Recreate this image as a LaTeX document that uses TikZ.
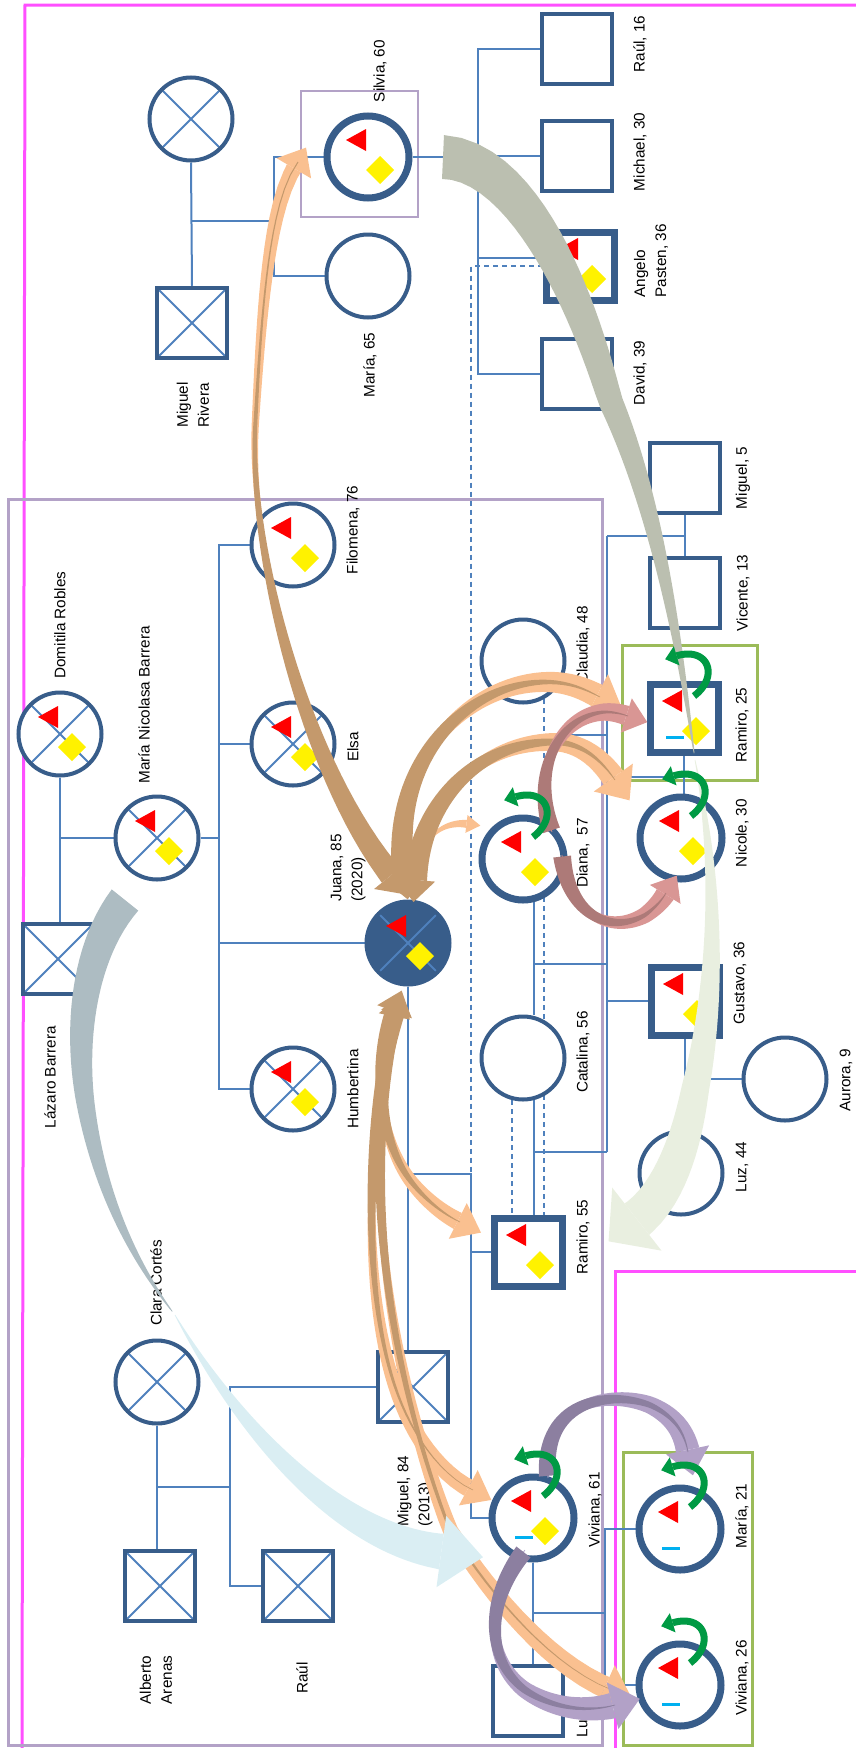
\documentclass[tikz,border=0pt]{standalone}
\usepackage{fontspec}
\setmainfont{Liberation Sans}
\usetikzlibrary{decorations.markings,backgrounds}

\definecolor{gblue}{HTML}{385D8A}
\definecolor{lblue}{HTML}{4F81BD}
\definecolor{pinkb}{HTML}{FF4FFF}
\definecolor{purpb}{HTML}{B3A2C7}
\definecolor{greenb}{HTML}{9BBB59}
\definecolor{cyanm}{HTML}{00B0F0}
\definecolor{curlg}{HTML}{009A44}
\definecolor{peach}{HTML}{FAC090}
\definecolor{brownb}{HTML}{C4996C}
\definecolor{grayb}{HTML}{BBBFB0}
\definecolor{paleg}{HTML}{E9EFE0}
\definecolor{grayblue}{HTML}{ADBCC2}
\definecolor{paleblue}{HTML}{DAEEF3}
\definecolor{rosel}{HTML}{D99694}
\definecolor{rosed}{HTML}{AD7A78}
\definecolor{purpl}{HTML}{B2A1C7}
\definecolor{purpd}{HTML}{8C7FA0}

\tikzset{
  fem/.style={circle, draw=gblue, fill=white, line width=4pt, minimum size=83pt, inner sep=0pt},
  femb/.style={fem, line width=7pt, minimum size=82pt},
  mal/.style={rectangle, draw=gblue, fill=white, line width=4.5pt, minimum size=70pt, inner sep=0pt},
  malb/.style={mal, line width=7pt, minimum size=68pt},
  dead/.style={path picture={\draw[lblue, line width=2pt]
      (path picture bounding box.north west) -- (path picture bounding box.south east)
      (path picture bounding box.north east) -- (path picture bounding box.south west);}},
  lab/.style={rotate=90, font=\fontsize{15.3}{21}\selectfont, align=left, inner sep=0pt},
  tie/.style={lblue, line width=2pt},
  dashtie/.style={lblue, line width=2pt, dash pattern=on 5pt off 4pt},
}

% tapering band: colour, start half width, end half width, head length, head half width, path, taper power
\newcommand\taperband[7]{%
  \path[decorate, decoration={markings,
     mark=between positions 0 and 0.985 step 0.02 with {
       \pgfmathsetmacro\bw{#2+(#3-#2)*pow(max(0.001,(\pgfkeysvalueof{/pgf/decoration/mark info/sequence number}-1)*0.02),#7)}
       \coordinate (tbL-\pgfkeysvalueof{/pgf/decoration/mark info/sequence number}) at (0pt,\bw pt);
       \coordinate (tbR-\pgfkeysvalueof{/pgf/decoration/mark info/sequence number}) at (0pt,-\bw pt);}}] #6;
  \path[decorate, decoration={markings,
     mark=at position 0.99 with {
       \coordinate (tbL-51) at (0pt,#3pt);
       \coordinate (tbR-51) at (0pt,-#3pt);
       \fill[#1] (0pt,#5pt) -- (#4pt,0pt) -- (0pt,-#5pt) -- cycle;}}] #6;
  \fill[#1] (tbL-1) \foreach \k in {2,...,51} {-- (tbL-\k)} -- (tbR-51) \foreach \k in {50,...,1} {-- (tbR-\k)} -- cycle;}

% symbols inside a person
\newcommand\redtri[1]{\fill[red] ([shift={(-22,-17)}]#1.center) -- ([shift={(-2,-28)}]#1.center) -- ([shift={(-2,-6)}]#1.center) -- cycle;}
\newcommand\yeldia[1]{\fill[yellow] ([shift={(12,-1)}]#1.center) -- ([shift={(26,13)}]#1.center) -- ([shift={(12,27)}]#1.center) -- ([shift={(-2,13)}]#1.center) -- cycle;}
\newcommand\riskmarks[1]{\redtri{#1}\yeldia{#1}}
\newcommand\cutmark[1]{\draw[cyanm, line width=3pt] ([shift={(-18,19)}]#1.center) -- ([shift={(0,19)}]#1.center);}
\newcommand\selfcurl[1]{\taperband{curlg}{3.5}{3.5}{12}{10}{([shift={(10,-22)}]#1.center) .. controls ([shift={(36,-42)}]#1.center) and ([shift={(24,-72)}]#1.center) .. ([shift={(-8,-62)}]#1.center)}{1}}

\begin{document}
\begin{tikzpicture}[x=1pt,y=-1pt]
\useasboundingbox (0,0) rectangle (856,1748);

% Rivera / Pasten
\node[fem,dead] (gmaS) at (191,119) {};
\node[mal,dead] (miguelR) at (192,323) {};
\node[femb] (silvia) at (368,157) {};
\node[fem] (maria65) at (368,276) {};
\node[mal] (raul16) at (577,49) {};
\node[mal] (michael) at (577,156) {};
\node[malb] (angelo) at (580,266) {};
\node[mal] (david) at (577,374) {};

% Barrera
\node[fem,dead] (domitila) at (60,734) {};
\node[fem,dead] (marianb) at (157,838) {};
\node[mal,dead] (lazaro) at (58,959) {};
\node[fem] (filomena) at (293,545) {};
\node[fem,dead] (elsa) at (293,744) {};
\node[fem,dead,fill=gblue] (juana) at (408,943) {};
\node[fem,dead] (humbertina) at (293,1089) {};

% Arenas
\node[fem,dead] (clara) at (157,1382) {};
\node[mal,dead] (miguel84) at (413,1387) {};
\node[mal,dead] (alberto) at (160,1586) {};
\node[mal,dead] (raul) at (298,1586) {};

% children
\node[fem] (claudia) at (523,661) {};
\node[femb] (diana) at (523,859) {};
\node[fem] (catalina) at (523,1058) {};
\node[malb] (ramiro55) at (528,1252) {};
\node[femb] (viviana61) at (533,1518) {};
\node[mal] (luis) at (528,1701) {};
\node[mal] (miguel5) at (685,478) {};
\node[mal] (vicente) at (685,593) {};
\node[malb] (ramiro25) at (684,718) {};
\node[femb] (nicole) at (681,838) {};
\node[malb] (gustavo) at (685,1001) {};
\node[fem] (luz) at (681,1173) {};
\node[fem] (aurora) at (785,1079) {};
\node[femb] (maria21) at (680,1529) {};
\node[femb] (viviana26) at (680,1685) {};

% names
\node[lab] (silviaL) at (380,71) {Silvia, 60};
\node[lab] (maria65L) at (370,365) {María, 65};
\node[lab] (miguelRL) at (193,405) {Miguel\\Rivera};
\node[lab] (raul16L) at (640,44) {Raúl, 16};
\node[lab] (michaelL) at (640,152) {Michael, 30};
\node[lab] (angeloL) at (651,261) {Angelo\\Pasten, 36};
\node[lab] (davidL) at (640,373) {David, 39};
\node[lab] (domitilaL) at (60,625) {Domitila Robles};
\node[lab] (marianbL) at (144,705) {María Nicolasa Barrera};
\node[lab] (lazaroL) at (50,1077) {Lázaro Barrera};
\node[lab] (filomenaL) at (353,530) {Filomena, 76};
\node[lab] (elsaL) at (353,747) {Elsa};
\node[lab] (juanaL) at (348,868) {Juana, 85\\(2020)};
\node[lab] (humbertinaL) at (353,1089) {Humbertina};
\node[lab] (claraL) at (156,1283) {Clara Cortés};
\node[lab] (miguel84L) at (415,1491) {Miguel, 84\\(2013)};
\node[lab] (albertoL) at (156,1680) {Alberto\\Arenas};
\node[lab] (raulL) at (302,1678) {Raúl};
\node[lab] (claudiaL) at (583,645) {Claudia, 48};
\node[lab] (dianaL) at (583,853) {Diana,\ \ 57};
\node[lab] (catalinaL) at (583,1052) {Catalina, 56};
\node[lab] (ramiro55L) at (583,1237) {Ramiro, 55};
\node[lab] (viviana61L) at (595,1510) {Viviana, 61};
\node[lab] (luisL) at (582,1723) {Luis};
\node[lab] (miguel5L) at (743,478) {Miguel, 5};
\node[lab] (vicenteL) at (743,593) {Vicente, 13};
\node[lab] (ramiro25L) at (742,725) {Ramiro, 25};
\node[lab] (nicoleL) at (742,833) {Nicole, 30};
\node[lab] (gustavoL) at (740,983) {Gustavo, 36};
\node[lab] (luzL) at (742,1167) {Luz, 44};
\node[lab] (auroraL) at (846,1080) {Aurora, 9};
\node[lab] (maria21L) at (742,1516) {María, 21};
\node[lab] (viviana26L) at (742,1678) {Viviana, 26};

% junctions
\coordinate (sibS) at (274,221);
\coordinate (sibA) at (478,157);
\coordinate (sibJ) at (219,838);
\coordinate (kidJ) at (408,1174);
\coordinate (kidJ2) at (471,1174);
\coordinate (sibC) at (230,1487);
\coordinate (kidV) at (605,1613);
\coordinate (busT) at (607,536);
\coordinate (busB) at (607,1152);
\coordinate (jCl) at (607,735);
\coordinate (jNi) at (607,777);
\coordinate (jDi) at (607,964);

\begin{scope}[on background layer]
  \draw[pinkb, line width=3pt] (856,5) -- (25,5) -- (22,1748);
  \draw[pinkb, line width=3pt] (856,1271) -- (615,1271) -- (615,1748);
  \draw[purpb, line width=3pt] (8,499) rectangle (602,1745);
  \draw[purpb, line width=2.5pt] (301,91) rectangle (418,217);
  \draw[greenb, line width=3pt] (622,645) rectangle (757,780);
  \draw[greenb, line width=3pt] (623,1452) rectangle (752,1745);
  % family lines
  \draw[tie] (gmaS.south) -- (miguelR.north);
  \draw[tie] (gmaS.south |- sibS) -- (sibS) |- (silvia.west);
  \draw[tie] (sibS) |- (maria65.west);
  \draw[tie] (silvia.east) -- (sibA) |- (raul16.west);
  \draw[tie] (sibA) |- (michael.west);
  \draw[tie] (sibA) |- ([yshift=8pt]angelo.west);
  \draw[tie] (sibA) |- (david.west);
  \draw[dashtie] (angelo.west) -| (kidJ2);
  \draw[tie] (domitila.south) -- (domitila.south |- lazaro.north);
  \draw[tie] (domitila.south |- marianb.west) -- (marianb.west);
  \draw[tie] (marianb.east) -- (sibJ) |- (filomena.west);
  \draw[tie] (sibJ) |- (elsa.west);
  \draw[tie] (sibJ) |- (juana.west);
  \draw[tie] (sibJ) |- (humbertina.west);
  \draw[tie] (juana.south) -- (juana.south |- miguel84.north);
  \draw[tie] (kidJ) -- (kidJ2) |- (ramiro55.west);
  \draw[tie] (kidJ2) |- (viviana61.west);
  \draw[tie] (clara.south) -- (clara.south |- alberto.north);
  \draw[tie] (clara.south |- sibC) -- (sibC) |- (miguel84.west);
  \draw[tie] (sibC) |- (raul.west);
  \draw[tie] (viviana61.south) -- (viviana61.south |- luis.north);
  \draw[tie] (viviana61.south |- kidV) -- (kidV) |- (maria21.west);
  \draw[tie] (kidV) |- (viviana26.west);
  \draw[tie] (diana.-76) -- (diana.-76 |- catalina.north);
  \draw[tie] (catalina.-76) -- (catalina.-76 |- ramiro55.north);
  \draw[dashtie] (claudia.-61) -- (claudia.-61 |- ramiro55.north);
  \draw[dashtie] (catalina.-104) -- (catalina.-104 |- ramiro55.north);
  \draw[tie] (busT) -- (busB);
  \draw[tie] (busT) -- (busT -| miguel5.south);
  \draw[tie] (miguel5.south) -- (vicente.north);
  \draw[tie] (jCl) -- (jCl -| claudia.-61);
  \draw[tie] (jNi) -- (jNi -| ramiro25.south);
  \draw[tie] (ramiro25.south) -- (ramiro25.south |- nicole.north);
  \draw[tie] (jDi) -- (jDi -| diana.-76);
  \draw[tie] (busT |- gustavo.west) -- (gustavo.west);
  \draw[tie] (busB) -- (busB -| catalina.-76);
  \draw[tie] (gustavo.south) -- (gustavo.south |- luz.north);
  \draw[tie] (gustavo.south |- aurora.west) -- (aurora.west);
\end{scope}

% marks
\foreach \p in {silvia,angelo,filomena,elsa,domitila,marianb,juana,humbertina,diana,nicole,ramiro25,gustavo,ramiro55,viviana61}
  {\riskmarks{\p}}
\redtri{maria21}
\redtri{viviana26}
\foreach \p in {ramiro25,viviana61,maria21,viviana26} {\cutmark{\p}}

% relation bands: peach ones first, brown over them
\taperband{peach}{0.5}{8}{24}{20}{([shift={(-12,-62)}]juana.center) .. controls (310,780) and (250,560) .. (255,430) .. controls (262,300) and (270,200) .. ([shift={(-70,5)}]silvia.center)}{2}
\taperband{peach}{0.3}{12}{28}{24}{([shift={(-3,-58)}]juana.center) .. controls (385,760) and (470,680) .. (550,682) .. controls (575,683) and (590,692) .. ([shift={(-84,-21)}]ramiro25.center)}{1}
\taperband{peach}{0.3}{12}{28}{24}{([shift={(7,-56)}]juana.center) .. controls (420,800) and (480,742) .. (553,742) .. controls (580,742) and (600,758) .. ([shift={(-66,-58)}]nicole.center)}{1}
\taperband{peach}{0.3}{4}{14}{9}{([shift={(17,-93)}]juana.center) .. controls (432,828) and (452,822) .. ([shift={(-56,-35)}]diana.center)}{1}
\taperband{peach}{0.3}{9}{26}{20}{([shift={(-13,62)}]juana.center) .. controls (372,1070) and (380,1140) .. (410,1180) .. controls (425,1200) and (445,1215) .. ([shift={(-68,-30)}]ramiro55.center)}{1}
\taperband{peach}{0.3}{9}{26}{20}{([shift={(-10,62)}]juana.center) .. controls (365,1120) and (360,1300) .. (400,1400) .. controls (420,1450) and (450,1480) .. ([shift={(-60,-28)}]viviana61.center)}{1}
\taperband{peach}{0.3}{11}{30}{24}{([shift={(-12,62)}]juana.center) .. controls (355,1200) and (400,1400) .. (450,1530) .. controls (500,1610) and (560,1670) .. ([shift={(-68,5)}]viviana26.center)}{1}

\taperband{brownb}{0.5}{12}{25}{22}{([shift={(-70,5)}]silvia.center) .. controls (270,200) and (262,300) .. (255,430) .. controls (250,560) and (310,780) .. ([shift={(-12,-62)}]juana.center)}{2}
\taperband{brownb}{0.3}{12}{22}{20}{([shift={(-84,-21)}]ramiro25.center) .. controls (590,692) and (575,683) .. (550,682) .. controls (470,680) and (385,760) .. ([shift={(-3,-62)}]juana.center)}{1}
\taperband{brownb}{0.3}{12}{22}{20}{([shift={(-66,-58)}]nicole.center) .. controls (600,758) and (580,742) .. (553,742) .. controls (480,742) and (420,800) .. ([shift={(7,-60)}]juana.center)}{1}
\taperband{brownb}{0.3}{9}{22}{18}{([shift={(-68,-30)}]ramiro55.center) .. controls (445,1215) and (425,1200) .. (410,1180) .. controls (380,1140) and (372,1070) .. ([shift={(-13,66)}]juana.center)}{1}
\taperband{brownb}{0.3}{8}{20}{16}{([shift={(-60,-28)}]viviana61.center) .. controls (450,1480) and (420,1450) .. (400,1400) .. controls (360,1300) and (365,1120) .. ([shift={(-10,66)}]juana.center)}{1.5}
\taperband{brownb}{0.3}{7}{20}{16}{([shift={(-68,5)}]viviana26.center) .. controls (560,1670) and (500,1610) .. (450,1530) .. controls (400,1400) and (355,1200) .. ([shift={(-12,66)}]juana.center)}{1.5}

% transmission bands
\taperband{grayb}{22}{0.3}{0}{0}{([shift={(75,0)}]silvia.center) .. controls (510,160) and (570,260) .. (610,400) .. controls (650,490) and (675,610) .. ([shift={(11,42)}]ramiro25.center)}{1}
\taperband{paleg}{0.3}{20}{36}{40}{([shift={(11,42)}]ramiro25.center) .. controls (720,880) and (715,1000) .. (695,1090) .. controls (685,1150) and (665,1200) .. ([shift={(105,-30)}]ramiro55.center)}{1}
\taperband{grayblue}{17}{0.3}{0}{0}{([shift={(-32,62)}]marianb.center) .. controls (85,950) and (75,1030) .. (85,1100) .. controls (100,1200) and (140,1270) .. ([shift={(18,-67)}]clara.center)}{1}
\taperband{paleblue}{0.3}{18}{42}{36}{([shift={(18,-67)}]clara.center) .. controls (240,1430) and (340,1540) .. ([shift={(-88,34)}]viviana61.center)}{1}

% rose bands
\taperband{rosel}{0.3}{10}{22}{18}{([shift={(29,-27)}]diana.center) .. controls (530,770) and (560,715) .. (605,712) .. controls (615,712) and (622,714) .. ([shift={(-56,-2)}]ramiro25.center)}{1}
\taperband{rosel}{0.3}{10}{22}{18}{([shift={(39,-4)}]diana.center) .. controls (568,915) and (610,935) .. (645,915) .. controls (655,908) and (662,900) .. ([shift={(-15,55)}]nicole.center)}{1}
\taperband{rosed}{0.3}{9}{0}{0}{([shift={(-56,-2)}]ramiro25.center) .. controls (622,714) and (615,712) .. (605,712) .. controls (560,715) and (530,770) .. ([shift={(29,-27)}]diana.center)}{1}
\taperband{rosed}{0.3}{9}{0}{0}{([shift={(-15,55)}]nicole.center) .. controls (662,900) and (655,908) .. (645,915) .. controls (610,935) and (568,915) .. ([shift={(39,-4)}]diana.center)}{1}

% purple bands
\taperband{purpl}{0.3}{12}{26}{22}{([shift={(15,-40)}]viviana61.center) .. controls (540,1400) and (610,1390) .. (650,1405) .. controls (672,1415) and (684,1430) .. ([shift={(8,-77)}]maria21.center)}{1}
\taperband{purpl}{0.3}{13}{28}{24}{([shift={(-8,32)}]viviana61.center) .. controls (485,1600) and (485,1660) .. (525,1690) .. controls (555,1710) and (590,1712) .. ([shift={(-65,20)}]viviana26.center)}{1}
\taperband{purpd}{0.3}{9}{0}{0}{([shift={(8,-77)}]maria21.center) .. controls (684,1430) and (672,1415) .. (650,1405) .. controls (610,1390) and (540,1400) .. ([shift={(15,-40)}]viviana61.center)}{1}
\taperband{purpd}{0.3}{9}{0}{0}{([shift={(-65,20)}]viviana26.center) .. controls (590,1712) and (555,1710) .. (525,1690) .. controls (485,1660) and (485,1600) .. ([shift={(-8,32)}]viviana61.center)}{1}

% self care curls
\foreach \p in {diana,nicole,ramiro25,viviana61,maria21,viviana26} {\selfcurl{\p}}
\end{tikzpicture}
\end{document}
